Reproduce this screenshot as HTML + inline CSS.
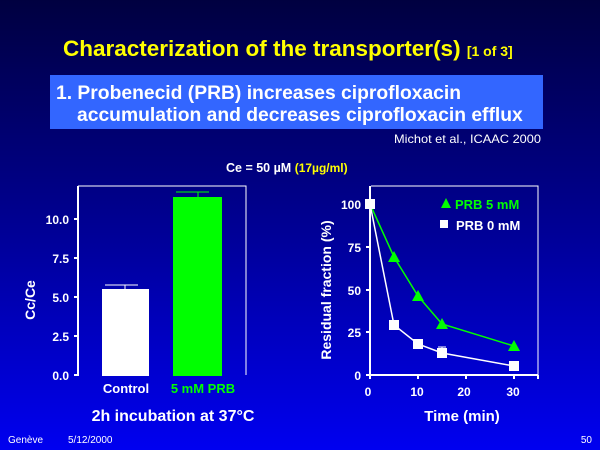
<!DOCTYPE html>
<html><head><meta charset="utf-8"><style>
body{margin:0;width:600px;height:450px;overflow:hidden;background:linear-gradient(#000040 0%,#00008a 45%,#0000f0 100%);font-family:"Liberation Sans",sans-serif;}
</style></head><body>
<svg width="600" height="450" xmlns="http://www.w3.org/2000/svg" font-family="Liberation Sans, sans-serif" style="position:absolute;left:0;top:0">
<text x="63" y="56" fill="#ffff00" font-size="22.5" font-weight="bold">Characterization of the transporter(s) <tspan font-size="14">[1 of 3]</tspan></text>
<rect x="50" y="75" width="493" height="54" fill="#3366ff"/>
<text x="56" y="99" fill="#fff" font-size="19.3" font-weight="bold">1. Probenecid (PRB) increases ciprofloxacin</text>
<text x="77" y="121" fill="#fff" font-size="19.3" font-weight="bold">accumulation and decreases ciprofloxacin efflux</text>
<text x="394" y="143" fill="#fff" font-size="12" textLength="147" lengthAdjust="spacingAndGlyphs">Michot et al., ICAAC 2000</text>
<text x="226" y="172" fill="#fff" font-size="12.5" font-weight="bold">Ce = 50 µM  <tspan fill="#ffff00" font-size="12">(17µg/ml)</tspan></text>
<!-- left chart -->
<rect x="102" y="289" width="47" height="87" fill="#fff"/>
<line x1="105" y1="285" x2="138" y2="285" stroke="#fff"/>
<line x1="125" y1="285" x2="125" y2="289" stroke="#fff"/>
<rect x="173" y="197" width="49" height="179" fill="#00ff00"/>
<line x1="176" y1="192" x2="209" y2="192" stroke="#00ff00"/>
<line x1="198" y1="192" x2="198" y2="197" stroke="#00ff00"/>
<polyline points="78,186 246,186 246,375" fill="none" stroke="#fff" stroke-width="1"/>
<line x1="78" y1="186" x2="78" y2="376" stroke="#fff" stroke-width="2"/>
<g stroke="#fff" stroke-width="2"><line x1="74" y1="375" x2="78" y2="375"/><line x1="74" y1="336" x2="78" y2="336"/><line x1="74" y1="297" x2="78" y2="297"/><line x1="74" y1="258" x2="78" y2="258"/><line x1="74" y1="219" x2="78" y2="219"/></g>
<g fill="#fff" font-size="12" font-weight="bold" text-anchor="end"><text x="69" y="380">0.0</text><text x="69" y="341">2.5</text><text x="69" y="302">5.0</text><text x="69" y="263">7.5</text><text x="69" y="224">10.0</text></g>
<text transform="translate(35,300) rotate(-90)" fill="#fff" font-size="14" font-weight="bold" text-anchor="middle">Cc/Ce</text>
<text x="126" y="393" fill="#fff" font-size="13" font-weight="bold" text-anchor="middle">Control</text>
<text x="203" y="393" fill="#00ff00" font-size="13" font-weight="bold" text-anchor="middle">5 mM PRB</text>
<text x="173" y="421" fill="#fff" font-size="16" font-weight="bold" text-anchor="middle">2h incubation at 37°C</text>
<!-- right chart -->
<polyline points="371,186 538,186 538,375" fill="none" stroke="#fff" stroke-width="1"/>
<line x1="370" y1="186" x2="370" y2="376" stroke="#fff" stroke-width="2"/>
<line x1="370" y1="375" x2="538" y2="375" stroke="#fff" stroke-width="2"/>
<g stroke="#fff" stroke-width="2"><line x1="366" y1="375" x2="370" y2="375"/><line x1="366" y1="332" x2="370" y2="332"/><line x1="366" y1="290" x2="370" y2="290"/><line x1="366" y1="247" x2="370" y2="247"/><line x1="366" y1="204" x2="370" y2="204"/>
<line x1="370" y1="375" x2="370" y2="379"/><line x1="418" y1="375" x2="418" y2="379"/><line x1="466" y1="375" x2="466" y2="379"/><line x1="514" y1="375" x2="514" y2="379"/><line x1="538" y1="375" x2="538" y2="379"/></g>
<g fill="#fff" font-size="12" font-weight="bold" text-anchor="end"><text x="361" y="380">0</text><text x="361" y="337">25</text><text x="361" y="295">50</text><text x="361" y="252">75</text><text x="361" y="209">100</text></g>
<g fill="#fff" font-size="12" font-weight="bold" text-anchor="middle"><text x="368" y="396">0</text><text x="417" y="396">10</text><text x="464" y="396">20</text><text x="513" y="396">30</text></g>
<text transform="translate(331,290) rotate(-90)" fill="#fff" font-size="14" font-weight="bold" text-anchor="middle">Residual fraction (%)</text>
<text x="462" y="421" fill="#fff" font-size="15" font-weight="bold" text-anchor="middle">Time (min)</text>
<polyline points="370,204 394,257 418,296 442,324 514,346" fill="none" stroke="#00ff00" stroke-width="1.5"/>
<polyline points="370,204 394,325 418,344 442,353 514,366" fill="none" stroke="#fff" stroke-width="1.5"/>
<line x1="442" y1="347" x2="442" y2="353" stroke="#fff"/><line x1="438" y1="347" x2="446" y2="347" stroke="#fff"/>
<g fill="#00ff00"><polygon points="394,251 400,262 388,262"/><polygon points="418,290 424,301 412,301"/><polygon points="442,318 448,329 436,329"/><polygon points="514,340 520,351 508,351"/></g>
<g fill="#fff"><rect x="365" y="199" width="10" height="10"/><rect x="389" y="320" width="10" height="10"/><rect x="413" y="339" width="10" height="10"/><rect x="437" y="348" width="10" height="10"/><rect x="509" y="361" width="10" height="10"/></g>
<polygon points="446,198 451,208 441,208" fill="#00ff00"/>
<text x="455" y="209" fill="#00ff00" font-size="13" font-weight="bold">PRB 5 mM</text>
<rect x="440" y="220" width="8" height="8" fill="#fff"/>
<text x="456" y="230" fill="#fff" font-size="13" font-weight="bold">PRB 0 mM</text>
<text x="8" y="443" fill="#fff" font-size="10">Genève</text>
<text x="68" y="443" fill="#fff" font-size="10">5/12/2000</text>
<text x="592" y="443" fill="#fff" font-size="10" text-anchor="end">50</text>
</svg>
</body></html>
